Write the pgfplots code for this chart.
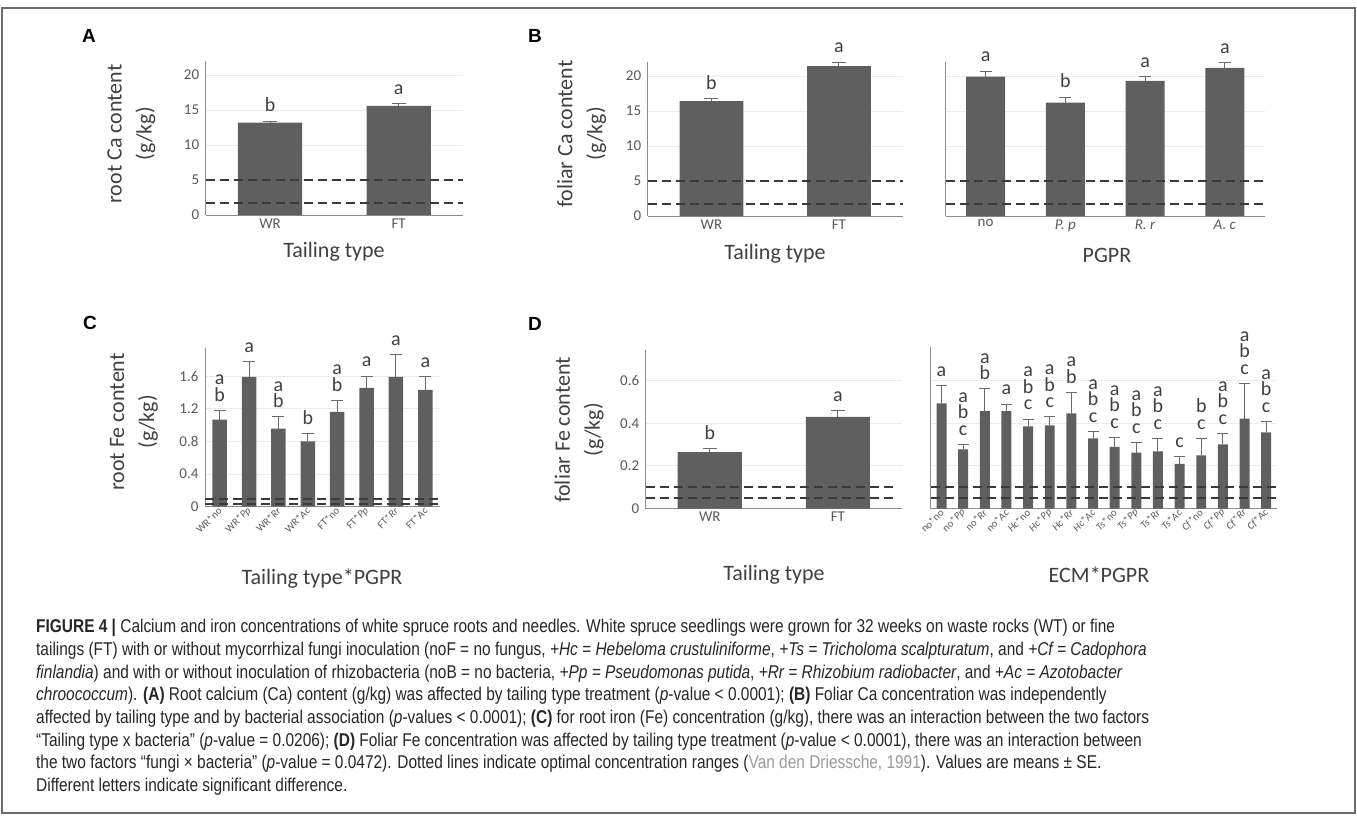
\documentclass[border=0pt]{standalone}
\usepackage{pgfplots}
\pgfplotsset{compat=1.18}
\usepackage{pgfplotstable}
\usepackage{fontspec}
\setmainfont{Carlito}
\newfontfamily\capfont[FakeStretch=0.835]{Liberation Sans}
\newfontfamily\pfont{Liberation Sans}

\definecolor{bargray}{HTML}{5F5F5F}
\definecolor{axgray}{HTML}{8C8C8C}
\definecolor{gridgray}{HTML}{EBEBEB}
\definecolor{txtgray}{HTML}{404040}
\definecolor{tickgray}{HTML}{595959}
\definecolor{errgray}{HTML}{6A6A6A}
\definecolor{dashgray}{HTML}{3A3A3A}
\definecolor{framegray}{HTML}{6B6B6B}
\definecolor{citegray}{HTML}{9A9A9A}

% data: x = category index, y = mean, e = SE
\pgfplotstableread{
x y e
0 13.2 0.2
1 15.6 0.3
}\rootCa
\pgfplotstableread{
x y e
0 16.4 0.35
1 21.4 0.6
}\folCaT
\pgfplotstableread{
x y e
0 19.9 0.8
1 16.2 0.8
2 19.3 0.65
3 21.15 0.8
}\folCaP
\pgfplotstableread{
x y e
0 1.067 0.113
1 1.59 0.19
2 0.956 0.144
3 0.80 0.094
4 1.16 0.14
5 1.456 0.144
6 1.59 0.27
7 1.43 0.16
}\rootFe
\pgfplotstableread{
x y e
0 0.265 0.017
1 0.43 0.029
}\folFeT
\pgfplotstableread{
x y e
0 0.494 0.084
1 0.278 0.023
2 0.458 0.104
3 0.458 0.032
4 0.386 0.034
5 0.391 0.039
6 0.447 0.098
7 0.329 0.033
8 0.289 0.043
9 0.262 0.047
10 0.268 0.060
11 0.210 0.033
12 0.250 0.078
13 0.301 0.052
14 0.422 0.165
15 0.358 0.050
}\folFeE

\pgfplotsset{
  panel/.style={
    scale only axis, anchor=south west, clip=false,
    axis x line*=bottom, axis y line*=left,
    axis line style={draw=axgray, line width=1pt, -},
    ymin=0, major tick length=0pt,
    ymajorgrids, grid style={draw=gridgray, line width=0.9pt},
    tick label style={font=\fontsize{15}{18}\selectfont, text=tickgray},
    yticklabel style={xshift=-3pt},
    /pgf/number format/assume math mode=true,
  },
  bars/.style 2 args={ybar, bar shift=0pt, fill=bargray, draw=none, bar width=#1,
    error bars/.cd, y dir=plus, y explicit,
    error bar style={draw=errgray, line width=1pt},
    error mark options={rotate=90, draw=errgray, line width=1pt, mark size=#2}},
  ref/.style={draw=dashgray, line width=2.2pt, dash pattern=on 9pt off 5pt},
  rotlab/.style={xticklabel style={rotate=45, anchor=east, font=\fontsize{10.5}{12}\selectfont, xshift=2pt, yshift=-2pt}},
}
\newcommand{\lab}[3]{\node[anchor=south, inner sep=0pt, align=center,
  font=\fontsize{20}{16.5}\selectfont, text=txtgray, yshift=9pt] at (axis cs:#1,#2) {#3};}

\begin{document}
\begin{tikzpicture}
\useasboundingbox (0,0) rectangle (1357pt,-815pt);

% A
\begin{axis}[panel, at={(205.7pt,-215pt)}, width=257.3pt, height=154pt,
  xmin=-0.5, xmax=1.5, ymax=22, ytick={0,5,10,15,20},
  xtick={0,1}, xticklabels={WR,FT}]
\addplot[bars={0.5}{7pt}] table[x=x, y=y, y error=e] {\rootCa};
\addplot[ref] coordinates {(-0.5,5) (1.5,5)};
\addplot[ref] coordinates {(-0.5,1.7) (1.5,1.7)};
\lab{0}{13.4}{b}\lab{1}{15.9}{a}
\end{axis}

% B left
\begin{axis}[panel, at={(647.7pt,-216pt)}, width=255pt, height=154pt,
  xmin=-0.5, xmax=1.5, ymax=22, ytick={0,5,10,15,20},
  xtick={0,1}, xticklabels={WR,FT}]
\addplot[bars={0.5}{7pt}] table[x=x, y=y, y error=e] {\folCaT};
\addplot[ref] coordinates {(-0.5,5) (1.5,5)};
\addplot[ref] coordinates {(-0.5,1.7) (1.5,1.7)};
\lab{0}{16.75}{b}\lab{1}{22.0}{a}
\end{axis}

% B right
\begin{axis}[panel, at={(945.7pt,-216pt)}, width=319pt, height=154pt,
  xmin=-0.5, xmax=3.5, ymax=22, ytick={0,5,10,15,20}, yticklabels={},
  xtick={0,1,2,3}, xticklabels={no,\textit{P. p},\textit{R. r},\textit{A. c}}]
\addplot[bars={0.49}{6pt}] table[x=x, y=y, y error=e] {\folCaP};
\addplot[ref] coordinates {(-0.5,5) (3.5,5)};
\addplot[ref] coordinates {(-0.5,1.7) (3.5,1.7)};
\lab{0}{20.7}{a}\lab{1}{17.0}{b}\lab{2}{19.95}{a}\lab{3}{21.95}{a}
\end{axis}

% C
\begin{axis}[panel, rotlab, at={(205pt,-506.7pt)}, width=235pt, height=158.4pt,
  xmin=-0.5, xmax=7.5, ymax=1.94, ytick={0,0.4,0.8,1.2,1.6},
  xtick={0,...,7},
  xticklabels={WR*no,WR*\textit{Pp},WR*\textit{Rr},WR*\textit{Ac},FT*no,FT*\textit{Pp},FT*\textit{Rr},FT*\textit{Ac}}]
\addplot[bars={0.49}{6pt}] table[x=x, y=y, y error=e] {\rootFe};
\addplot[ref] coordinates {(-0.5,0.09) (7.5,0.09)};
\addplot[ref] coordinates {(-0.5,0.035) (7.5,0.035)};
\lab{0}{1.18}{a\\b}\lab{1}{1.78}{a}\lab{2}{1.10}{a\\b}\lab{3}{0.894}{b}
\lab{4}{1.30}{a\\b}\lab{5}{1.60}{a}\lab{6}{1.86}{a}\lab{7}{1.59}{a}
\end{axis}

% D left
\begin{axis}[panel, at={(645.7pt,-508.5pt)}, width=256.3pt, height=158.5pt,
  xmin=-0.5, xmax=1.5, ymax=0.744, ytick={0,0.2,0.4,0.6},
  xtick={0,1}, xticklabels={WR,FT}]
\addplot[bars={0.5}{7pt}] table[x=x, y=y, y error=e] {\folFeT};
\addplot[ref] coordinates {(-0.5,0.1) (1.43,0.1)};
\addplot[ref] coordinates {(-0.5,0.05) (1.43,0.05)};
\lab{0}{0.282}{b}\lab{1}{0.459}{a}
\end{axis}

% D right
\begin{axis}[panel, rotlab, at={(930.7pt,-508.5pt)}, width=346.3pt, height=161.8pt,
  xmin=-0.5, xmax=15.5, ymax=0.76, ytick={0,0.2,0.4,0.6}, yticklabels={},
  xtick={0,...,15},
  xticklabels={no*no,no*\textit{Pp},no*\textit{Rr},no*\textit{Ac},\textit{Hc}*no,\textit{Hc}*\textit{Pp},\textit{Hc}*\textit{Rr},\textit{Hc}*\textit{Ac},\textit{Ts}*no,\textit{Ts}*\textit{Pp},\textit{Ts}*\textit{Rr},\textit{Ts}*\textit{Ac},\textit{Cf}*no,\textit{Cf}*\textit{Pp},\textit{Cf}*\textit{Rr},\textit{Cf}*\textit{Ac}}]
\addplot[bars={0.46}{5.5pt}] table[x=x, y=y, y error=e] {\folFeE};
\addplot[ref] coordinates {(-0.5,0.1) (15.5,0.1)};
\addplot[ref] coordinates {(-0.5,0.05) (15.5,0.05)};
\lab{0}{0.578}{a}\lab{1}{0.301}{a\\b\\c}\lab{2}{0.562}{a\\b}\lab{3}{0.490}{a}
\lab{4}{0.420}{a\\b\\c}\lab{5}{0.430}{a\\b\\c}\lab{6}{0.545}{a\\b}\lab{7}{0.362}{a\\b\\c}
\lab{8}{0.332}{a\\b\\c}\lab{9}{0.309}{a\\b\\c}\lab{10}{0.328}{a\\b\\c}\lab{11}{0.243}{c}
\lab{12}{0.328}{b\\c}\lab{13}{0.353}{a\\b\\c}\lab{14}{0.587}{a\\b\\c}\lab{15}{0.408}{a\\b\\c}
\end{axis}

\begin{scope}[x=1pt, y=-1pt]
% frame
\draw[framegray, line width=1.5pt] (2,8) rectangle (1355,813);
% panel letters
\foreach \t/\px/\py in {A/89/36, B/535/36, C/90/323, D/535/324}
  \node[font=\pfont\bfseries\fontsize{19}{22}\selectfont] at (\px,\py) {\t};
% axis titles
\begin{scope}[every node/.style={font=\fontsize{22}{30}\selectfont, text=txtgray, align=center}]
\node[rotate=90] at (131.5,134) {root Ca content\\(g/kg)};
\node[rotate=90] at (581.5,134) {foliar Ca content\\(g/kg)};
\node[rotate=90] at (134,422) {root Fe content\\(g/kg)};
\node[rotate=90] at (579,430) {foliar Fe content\\(g/kg)};
\node at (334,252) {Tailing type};
\node at (775,254) {Tailing type};
\node at (1107,255) {PGPR};
\node at (322,579) {Tailing type*PGPR};
\node at (774,575) {Tailing type};
\node at (1099,575) {ECM*PGPR};
\end{scope}
% caption
\begin{scope}[every node/.style={anchor=base west, inner sep=0pt, font=\capfont\fontsize{18.5}{22}\selectfont, text=black!85}]
\node at (36,632.8) {\textbf{FIGURE 4 |} Calcium and iron concentrations of white spruce roots and needles. White spruce seedlings were grown for 32 weeks on waste rocks (WT) or fine};
\node at (36,655.5) {tailings (FT) with or without mycorrhizal fungi inoculation (noF = no fungus, \textit{+Hc = Hebeloma crustuliniforme}, \textit{+Ts = Tricholoma scalpturatum}, and \textit{+Cf = Cadophora}};
\node at (36,678.2) {\textit{finlandia}) and with or without inoculation of rhizobacteria (noB = no bacteria, \textit{+Pp = Pseudomonas putida}, \textit{+Rr = Rhizobium radiobacter}, and \textit{+Ac = Azotobacter}};
\node at (36,700.8) {\textit{chroococcum}). \textbf{(A)} Root calcium (Ca) content (g/kg) was affected by tailing type treatment (\textit{p}-value < 0.0001); \textbf{(B)} Foliar Ca concentration was independently};
\node at (36,723.5) {affected by tailing type and by bacterial association (\textit{p}-values < 0.0001); \textbf{(C)} for root iron (Fe) concentration (g/kg), there was an interaction between the two factors};
\node at (36,746.2) {“Tailing type x bacteria” (\textit{p}-value = 0.0206); \textbf{(D)} Foliar Fe concentration was affected by tailing type treatment (\textit{p}-value < 0.0001), there was an interaction between};
\node at (36,768.8) {the two factors “fungi × bacteria” (\textit{p}-value = 0.0472). Dotted lines indicate optimal concentration ranges ({\color{citegray}Van den Driessche, 1991}). Values are means ± SE.};
\node at (36,791.5) {Different letters indicate significant difference.};
\end{scope}
\end{scope}
\end{tikzpicture}
\end{document}
